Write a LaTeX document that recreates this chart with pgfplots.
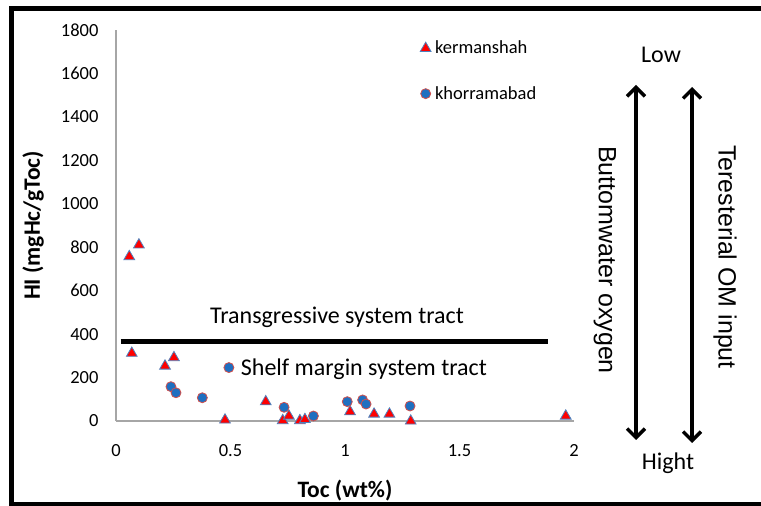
\documentclass[border=0pt]{standalone}
\usepackage{pgfplots}
\pgfplotsset{compat=1.18}
\usepackage{fontspec}
\setmainfont{Carlito}
\newfontfamily\arialf{Liberation Sans}
\usetikzlibrary{arrows.meta}
\definecolor{triblue}{HTML}{4F81BD}
\definecolor{cirblue}{HTML}{1F6FC0}
\definecolor{cirred}{HTML}{D0504D}
\definecolor{axgray}{HTML}{A6A6A6}
\begin{document}
\begin{tikzpicture}[x=1pt,y=1pt]
\begin{axis}[
  at={(0pt,0pt)}, anchor=origin,
  scale only axis, width=458pt, height=391pt,
  xmin=0, xmax=2, ymin=0, ymax=1800,
  axis lines=left,
  axis line style={axgray, line width=1.5pt, -},
  xtick={0,0.5,1,1.5,2},
  ytick={0,200,...,1800},
  major tick length=0pt,
  /pgf/number format/assume math mode=true,
  /pgf/number format/1000 sep={},
  ticklabel style={font=\fontsize{18.5}{20}\selectfont},
  yticklabel style={xshift=-14pt},
  xticklabel style={yshift=-20pt},
  xlabel={Toc (wt\%)},
  ylabel={HI (mgHc/gToc)},
  xlabel style={font=\bfseries\fontsize{23.5}{26}\selectfont, at={(axis description cs:0.5,0)}, anchor=center, yshift=-70pt},
  ylabel style={font=\bfseries\fontsize{23.5}{26}\selectfont, at={(axis description cs:-0.181,0.5)}, anchor=center},
  clip=false,
  legend style={draw=none, fill=none, at={(axis description cs:0.664,0.972)}, anchor=north west,
    font=\fontsize{18.5}{20}\selectfont, row sep=31pt, inner sep=0pt,
    nodes={inner xsep=4pt, inner ysep=0pt}},
  legend cell align=left,
  legend image code/.code={\draw[mark repeat=2,mark phase=2,#1] plot coordinates {(0pt,0pt) (6pt,0pt) (12pt,0pt)};},
]
\addplot[only marks, mark=triangle*, mark size=6.2pt, mark options={fill=red, draw=triblue, line width=0.8pt}]
coordinates {
(0.058,757) (0.100,811) (0.069,312) (0.214,253) (0.253,292)
(0.476,5) (0.654,89) (0.728,2) (0.755,23) (0.803,2) (0.825,7)
(1.022,43) (1.127,32) (1.194,32) (1.287,0) (1.964,23)
};
\addlegendentry{kermanshah}
\addplot[only marks, mark=*, mark size=5pt, mark options={fill=cirblue, draw=cirred, line width=0.8pt}]
coordinates {
(0.240,158) (0.262,130) (0.377,107) (0.493,246) (0.734,63)
(0.862,23) (1.010,89) (1.077,97) (1.092,78) (1.284,69)
};
\addlegendentry{khorramabad}
\addplot[black, line width=5pt, forget plot] coordinates {(0.02,366) (1.886,366)};
\node[font=\fontsize{24}{28}\selectfont] at (axis cs:0.965,479) {Transgressive system tract};
\node[font=\fontsize{24}{28}\selectfont, anchor=west] at (axis cs:0.53,240) {Shelf margin system tract};
\end{axis}
% right-hand annotations (pixel -> pt: x-116, 421-y)
\draw[line width=3.5pt, {Straight Barb[length=9pt,width=18pt]}-{Straight Barb[length=9pt,width=18pt]}] (520pt,336pt) -- (520pt,-19pt);
\draw[line width=3.5pt, {Straight Barb[length=9pt,width=18pt]}-{Straight Barb[length=9pt,width=18pt]}] (576pt,334pt) -- (576pt,-22pt);
\node[font=\fontsize{24}{28}\selectfont] at (545pt,366pt) {Low};
\node[font=\fontsize{24}{28}\selectfont] at (552pt,-42pt) {Hight};
\node[font=\arialf\fontsize{25}{28}\selectfont, rotate=-90] at (489pt,161pt) {Buttomwater oxygen};
\node[font=\arialf\fontsize{25}{28}\selectfont, rotate=-90] at (609pt,164pt) {Teresterial OM input};
% frame
\draw[line width=5pt] (660pt,412pt) -- (-104.5pt,412pt) -- (-104.5pt,-83.5pt) -- (660pt,-83.5pt);
\pgfresetboundingbox
\useasboundingbox (-116pt,-85pt) rectangle (645pt,421pt);
\end{tikzpicture}
\end{document}
